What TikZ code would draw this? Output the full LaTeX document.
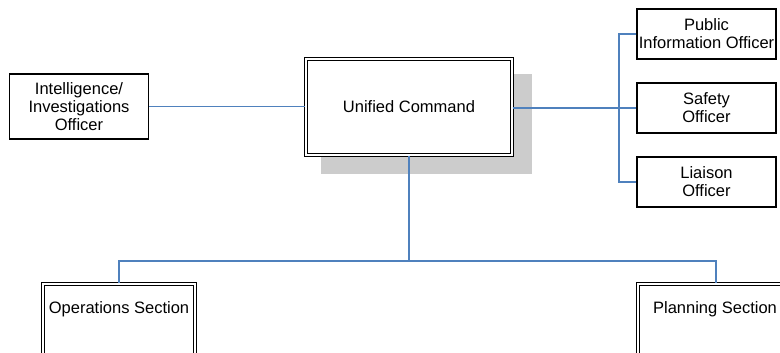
\documentclass[tikz,border=0pt]{standalone}
\usepackage{fontspec}
\setmainfont{Liberation Sans}
\begin{document}
\begin{tikzpicture}[x=1pt,y=-1pt,
  every node/.style={font=\fontsize{16.5}{18}\selectfont, align=center, inner sep=0pt},
  officebox/.style={draw=black, line width=1.3pt, fill=white},
  dblbox/.style={draw=black, double=white, double distance=1.6pt, line width=1.1pt, fill=white},
  link/.style={draw=linkblue, line width=1.3pt}
]
\definecolor{linkblue}{RGB}{79,129,189}
\definecolor{shadowgray}{RGB}{204,204,204}
\useasboundingbox (0,0) rectangle (780,353);
\clip (0,0) rectangle (780,353);

% drop shadow behind the command box
\fill[shadowgray] (321,74) rectangle (532,174);

% command box
\node[dblbox, minimum width=206pt, minimum height=96pt] (uc) at (409,107) {Unified Command};

% staff officers
\node[officebox, minimum width=139pt, minimum height=65pt] (intel) at (79,106.5)
  {Intelligence/\\Investigations\\Officer};
\node[officebox, minimum width=139pt, minimum height=50pt] (pio) at (706.5,34)
  {Public\\Information Officer};
\node[officebox, minimum width=139pt, minimum height=50pt] (safety) at (706.5,108)
  {Safety\\Officer};
\node[officebox, minimum width=139pt, minimum height=50pt] (liaison) at (706.5,182)
  {Liaison\\Officer};

% general staff sections (run off the lower edge)
\node[dblbox, minimum width=152pt, minimum height=96pt] (ops) at (119,332) {};
\node[anchor=center] (opstext) at (119,309) {Operations Section};
\node[dblbox, minimum width=156pt, minimum height=96pt] (plan) at (716,332) {};
\node[anchor=center] (plantext) at (715,309) {Planning Section};

% connectors
\coordinate (busR) at (619,108);
\coordinate (busB) at (409,261);
\draw[link] (intel.east) -- (uc.west |- intel.east);
\draw[link] (uc.east |- busR) -- (safety.west);
\draw[link] (pio.west) -| (busR) |- (liaison.west);
\draw[link] (uc.south) -- (busB);
\draw[link] (ops.north) |- (busB) -| (plan.north);
\end{tikzpicture}
\end{document}
